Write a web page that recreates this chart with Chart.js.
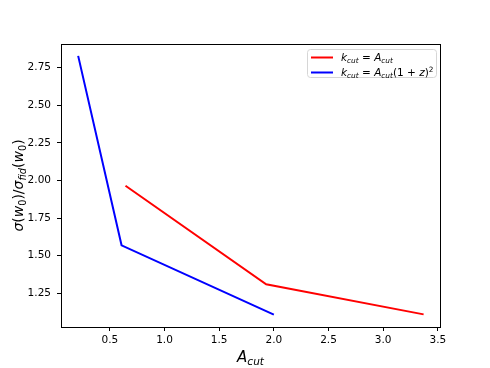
<!DOCTYPE html>
<html>
<head>
<meta charset="utf-8">
<script src="https://cdn.jsdelivr.net/npm/chart.js@4.4.1/dist/chart.umd.min.js"></script>
<style>
  body { margin: 0; background: #fff; }
  #wrap { width: 490px; height: 368px; }
</style>
</head>
<body>
<div id="wrap"><canvas id="chartArea" width="490" height="368"></canvas></div>
<script>
const chartArea = document.getElementById("chartArea");

// values
var redX = [0.643, 1.93, 3.37];
var redY = [1.965, 1.310, 1.110];
var blueX = [0.21, 0.607, 2.0];
var blueY = [2.828, 1.569, 1.108];
var xTicks = [0.5, 1.0, 1.5, 2.0, 2.5, 3.0, 3.5];
var yTicks = [1.25, 1.50, 1.75, 2.00, 2.25, 2.50, 2.75];

var FONT = "'DejaVu Sans', sans-serif";

function toPoints(xs, ys) {
    var pts = [];
    for (var i = 0; i < xs.length; i++) {
        pts.push({ x: xs[i], y: ys[i] });
    }
    return pts;
}

// draw a little piece of math text: parts are [text, style]
// styles: r = roman, i = italic, sub = roman subscript, subi = italic subscript, sup = superscript
function partFont(style, size) {
    var s = (style == "sub" || style == "subi" || style == "sup") ? size * 0.7 : size;
    var it = (style == "i" || style == "subi") ? "italic " : "";
    return it + s + "px " + FONT;
}

function mathWidth(ctx, parts, size) {
    var w = 0;
    for (var i = 0; i < parts.length; i++) {
        ctx.font = partFont(parts[i][1], size);
        w += ctx.measureText(parts[i][0]).width;
    }
    return w;
}

function drawMath(ctx, parts, x, y, size) {
    ctx.textBaseline = "alphabetic";
    ctx.textAlign = "left";
    for (var i = 0; i < parts.length; i++) {
        var st = parts[i][1];
        var dy = 0;
        if (st == "sub" || st == "subi") dy = size * 0.22;
        if (st == "sup") dy = -size * 0.42;
        ctx.font = partFont(st, size);
        ctx.fillText(parts[i][0], x, y + dy);
        x += ctx.measureText(parts[i][0]).width;
    }
}

var yLabel = [["σ", "i"], ["(", "r"], ["w", "i"], ["0", "sub"], [")", "r"], ["/", "r"],
              ["σ", "i"], ["fid", "subi"], ["(", "r"], ["w", "i"], ["0", "sub"], [")", "r"]];
var xLabel = [["A", "i"], ["cut", "subi"]];
var legendRed = [["k", "i"], ["cut", "subi"], [" = ", "r"], ["A", "i"], ["cut", "subi"]];
var legendBlue = [["k", "i"], ["cut", "subi"], [" = ", "r"], ["A", "i"], ["cut", "subi"],
                  ["(1 + ", "r"], ["z", "i"], [")", "r"], ["2", "sup"]];

//frame, axis titles and legend drawn like matplotlib
const extras = {
    id: "extras",
    afterDraw(chart) {
        const ctx = chart.ctx;
        const a = chart.chartArea;
        ctx.save();
        ctx.strokeStyle = "#000";
        ctx.lineWidth = 1;
        ctx.strokeRect(Math.round(a.left) + 0.5, Math.round(a.top) + 0.5,
                       Math.round(a.right - a.left), Math.round(a.bottom - a.top));

        ctx.fillStyle = "#000";
        // x title
        var w = mathWidth(ctx, xLabel, 15);
        drawMath(ctx, xLabel, (a.left + a.right) / 2 - w / 2, 362, 15);
        // y title
        ctx.save();
        ctx.translate(23, (a.top + a.bottom) / 2);
        ctx.rotate(-Math.PI / 2);
        w = mathWidth(ctx, yLabel, 14);
        drawMath(ctx, yLabel, -w / 2, 0, 14);
        ctx.restore();

        // legend
        var lx = 307, ly = 49, lw = 129, lh = 28;
        ctx.fillStyle = "rgba(255,255,255,0.8)";
        ctx.strokeStyle = "#d6d6d6";
        ctx.beginPath();
        ctx.roundRect(lx + 0.5, ly + 0.5, lw, lh, 3);
        ctx.fill();
        ctx.stroke();
        ctx.lineWidth = 2;
        ctx.strokeStyle = "#ff0000";
        ctx.beginPath(); ctx.moveTo(311, 57.5); ctx.lineTo(333, 57.5); ctx.stroke();
        ctx.strokeStyle = "#0000ff";
        ctx.beginPath(); ctx.moveTo(311, 72.5); ctx.lineTo(333, 72.5); ctx.stroke();
        ctx.fillStyle = "#000";
        drawMath(ctx, legendRed, 341, 61, 10.5);
        drawMath(ctx, legendBlue, 341, 76, 10.5);
        ctx.restore();
    }
};

var lineChart = new Chart(chartArea, {
    type: "line",
    data: {
        datasets: [{
            label: "red",
            data: toPoints(redX, redY),
            borderColor: "#ff0000",
            borderWidth: 2,
            pointRadius: 0,
            tension: 0
        }, {
            label: "blue",
            data: toPoints(blueX, blueY),
            borderColor: "#0000ff",
            borderWidth: 2,
            pointRadius: 0,
            tension: 0
        }]
    },
    options: {
        responsive: false,
        animation: false,
        layout: { padding: { left: 0, right: 50, top: 44, bottom: 0 } },
        plugins: {
            legend: { display: false },
            tooltip: { enabled: false }
        },
        scales: {
            x: {
                type: "linear",
                min: 0.053,
                max: 3.52,
                afterBuildTicks: function (scale) {
                    scale.ticks = xTicks.map(function (v) { return { value: v }; });
                },
                afterFit: function (scale) { scale.height = 41; },
                grid: { drawOnChartArea: false, tickLength: 4, tickColor: "#000" },
                border: { color: "#000" },
                ticks: {
                    color: "#000",
                    padding: 3,
                    maxRotation: 0,
                    font: { family: FONT, size: 10.5 },
                    callback: function (v) { return v.toFixed(1); }
                }
            },
            y: {
                min: 1.026,
                max: 2.907,
                afterBuildTicks: function (scale) {
                    scale.ticks = yTicks.map(function (v) { return { value: v }; });
                },
                afterFit: function (scale) { scale.width = 61; },
                grid: { drawOnChartArea: false, tickLength: 4, tickColor: "#000" },
                border: { color: "#000" },
                ticks: {
                    color: "#000",
                    padding: 6,
                    font: { family: FONT, size: 10.5 },
                    callback: function (v) { return v.toFixed(2); }
                }
            }
        }
    },
    plugins: [extras]
});
</script>
</body>
</html>
